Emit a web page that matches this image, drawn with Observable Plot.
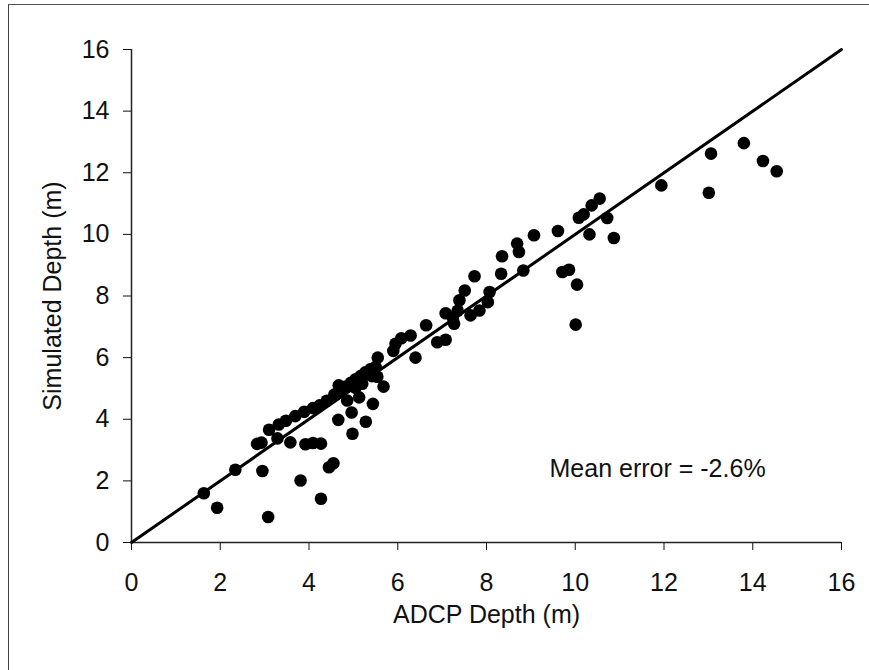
<!DOCTYPE html>
<html>
<head>
<meta charset="utf-8">
<script src="https://cdn.jsdelivr.net/npm/d3@7"></script>
<script src="https://cdn.jsdelivr.net/npm/@observablehq/plot@0.6"></script>
<style>
  html, body { margin: 0; padding: 0; background: #fff; }
  #wrap { position: relative; width: 869px; height: 670px; }
  #frame { position: absolute; left: 8px; top: 4px; right: 0; bottom: 0;
           border-left: 1.5px solid #444; border-top: 1.5px solid #555; pointer-events: none; }
</style>
</head>
<body>
<div id="wrap"><div id="frame"></div></div>
<script>
const adcpDepth = [
  1.63, 1.93, 2.34, 2.95, 3.08, 3.81, 2.83, 2.93, 3.10, 3.29,
  3.32, 3.48, 3.58, 3.69, 3.89, 3.92, 4.09, 4.27, 4.09, 4.24,
  4.40, 4.27, 4.45, 4.55, 4.66, 4.57, 4.67, 4.86, 4.96, 4.98,
  5.13, 5.28, 5.44, 5.68, 5.55, 4.80, 4.94, 5.05, 5.16, 5.27,
  5.38, 5.50, 5.42, 5.54, 5.05, 5.20, 4.72, 5.90, 5.95, 6.08,
  6.29, 6.40, 6.64, 6.89, 7.08, 7.08, 7.24, 7.27, 7.35, 7.39,
  7.51, 7.64, 7.73, 7.84, 8.03, 8.07, 8.33, 8.35, 8.69, 8.73,
  8.83, 9.07, 9.61, 9.71, 9.86, 10.04, 10.01, 10.08, 10.19, 10.37,
  10.55, 10.32, 10.72, 10.87, 11.94, 13.01, 13.06, 13.80, 14.23, 14.54
];
const simulatedDepth = [
  1.60, 1.13, 2.36, 2.32, 0.83, 2.01, 3.20, 3.24, 3.66, 3.38,
  3.83, 3.95, 3.25, 4.10, 4.24, 3.19, 3.23, 3.21, 4.36, 4.45,
  4.60, 1.42, 2.44, 2.57, 3.98, 4.80, 5.10, 4.61, 4.22, 3.53,
  4.71, 3.92, 4.50, 5.06, 6.00, 5.05, 5.18, 5.30, 5.40, 5.52,
  5.62, 5.70, 5.40, 5.38, 5.02, 5.15, 4.95, 6.22, 6.45, 6.63,
  6.72, 6.00, 7.05, 6.50, 6.58, 7.44, 7.30, 7.10, 7.52, 7.86,
  8.18, 7.37, 8.64, 7.53, 7.80, 8.13, 8.72, 9.29, 9.70, 9.43,
  8.83, 9.97, 10.11, 8.78, 8.85, 8.37, 7.07, 10.54, 10.65, 10.94,
  11.16, 10.00, 10.53, 9.88, 11.59, 11.35, 12.62, 12.96, 12.38, 12.05
];
const ticks = [0, 2, 4, 6, 8, 10, 12, 14, 16];
const oneToOne = [0, 16];
const note = "Mean error = -2.6%";

const points = adcpDepth.map((x, i) => ({x, y: simulatedDepth[i]}));
const linePts = oneToOne.map(v => ({x: v, y: v}));
const FONT = "'Liberation Sans', Arial, sans-serif";

const chart = Plot.plot({
  width: 869,
  height: 670,
  marginLeft: 131,
  marginRight: 28,
  marginTop: 49,
  marginBottom: 128,
  style: {fontFamily: FONT, fontSize: "25px", color: "#111", background: "#fff", overflow: "visible"},
  x: {domain: [0, 16]},
  y: {domain: [0, 16]},
  marks: [
    Plot.axisX({ticks, tickSize: 8, tickPadding: 23, fontSize: 25, label: "ADCP Depth (m)", labelAnchor: "center", labelOffset: 80, labelArrow: "none"}),
    Plot.axisY({ticks, tickSize: 8, tickPadding: 14, fontSize: 25, label: "Simulated Depth (m)", labelAnchor: "center", labelOffset: 88, labelArrow: "none"}),
    Plot.ruleX([0], {stroke: "#222", strokeWidth: 1.5}),
    Plot.ruleY([0], {stroke: "#222", strokeWidth: 1.5}),
    Plot.line(linePts, {x: "x", y: "y", stroke: "#000", strokeWidth: 3}),
    Plot.dot(points, {x: "x", y: "y", r: 6.3, fill: "#000", stroke: "none"}),
    Plot.text([note], {x: 14.29, y: 2.37, text: d => d, textAnchor: "end", fontSize: 25, fill: "#111"})
  ]
});
document.getElementById("wrap").prepend(chart);
</script>
</body>
</html>
